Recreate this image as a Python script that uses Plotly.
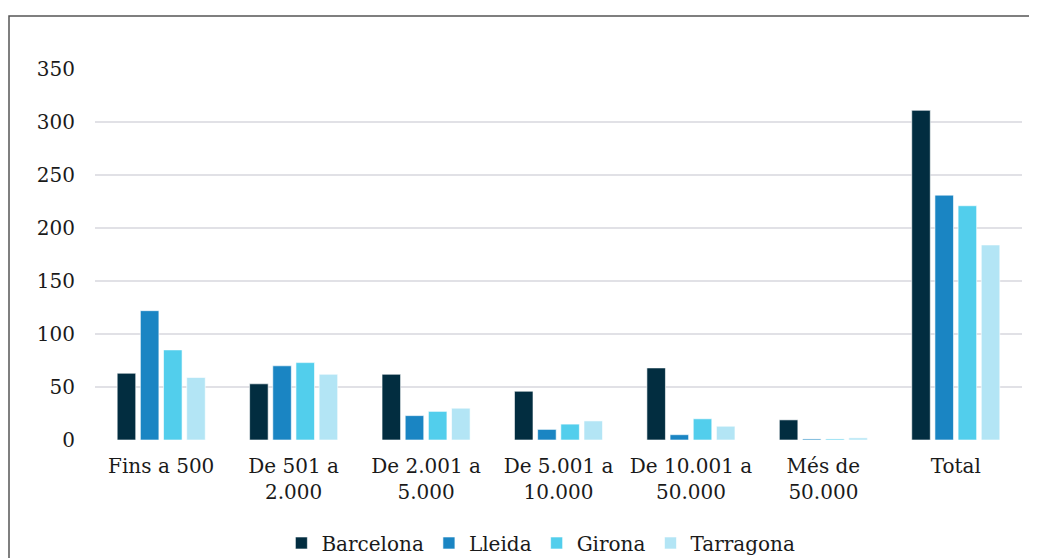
import plotly.graph_objects as go

categories = ["Fins a 500", "De 501 a<br>2.000", "De 2.001 a<br>5.000", "De 5.001 a<br>10.000",
              "De 10.001 a<br>50.000", "Més de<br>50.000", "Total"]
series_names = ["Barcelona", "Lleida", "Girona", "Tarragona"]
barcelona = [63, 53, 62, 46, 68, 19, 311]
lleida = [122, 70, 23, 10, 5, 1, 231]
girona = [85, 73, 27, 15, 20, 1, 221]
tarragona = [59, 62, 30, 18, 13, 2, 184]
colors = ["#022d40", "#1a85c3", "#52ceec", "#b3e5f5"]
y_ticks = [0, 50, 100, 150, 200, 250, 300, 350]

fig = go.Figure()
for name, vals, col in zip(series_names, [barcelona, lleida, girona, tarragona], colors):
    fig.add_trace(go.Bar(x=categories, y=vals, name=name,
                         marker=dict(color=col, line=dict(color="rgba(255,255,255,0.6)", width=1))))

font = "DejaVu Serif, serif"
fig.update_layout(
    width=1037, height=566,
    margin=dict(l=87, r=23, t=61, b=134),
    paper_bgcolor="white", plot_bgcolor="white",
    barmode="group", bargap=0.3, bargroupgap=0.2,
    font=dict(family=font, size=20, color="#1a1a1a"),
    showlegend=True,
    legend=dict(orientation="h", x=0.481, xanchor="center", y=-0.2776, yanchor="middle",
                font=dict(size=20), itemwidth=30, traceorder="normal"),
    xaxis=dict(showgrid=False, showline=False, ticks="", tickfont=dict(size=20),
               ticklabelstandoff=12, automargin=False),
    yaxis=dict(range=[0, 350], tickvals=y_ticks, showgrid=True, gridcolor="#e1e1e6", gridwidth=2,
               zeroline=False, showline=False, ticks="", ticklabelstandoff=19,
               tickfont=dict(size=20), automargin=False),
    shapes=[dict(type="rect", xref="paper", yref="paper",
                 x0=-86 / 927, x1=1.05, y0=-0.45, y1=1 + 53 / 371,
                 line=dict(color="#555555", width=1.5), fillcolor="rgba(0,0,0,0)", layer="below")],
)
fig.write_html("out.html")
